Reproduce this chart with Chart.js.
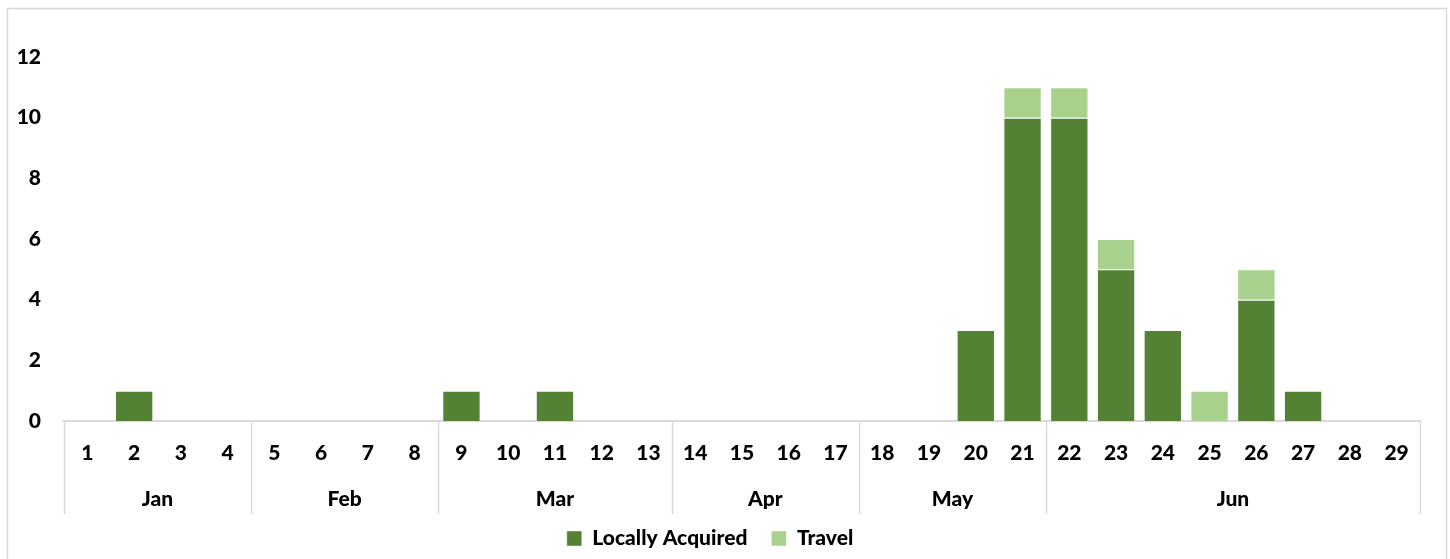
<!DOCTYPE html>
<html>
<head>
<meta charset="utf-8">
<script src="https://cdn.jsdelivr.net/npm/chart.js@4.4.1/dist/chart.umd.min.js"></script>
<style>
    html, body { margin: 0; padding: 0; background: #ffffff; }
    #wrap { position: relative; width: 1450px; height: 559px; }
</style>
</head>
<body>
<div id="wrap"><canvas id="cases"></canvas></div>
<script>
// Data
const days = ['1', '2', '3', '4', '5', '6', '7', '8', '9', '10', '11', '12', '13', '14', '15',
    '16', '17', '18', '19', '20', '21', '22', '23', '24', '25', '26', '27', '28', '29'];
const months = ['Jan', 'Feb', 'Mar', 'Apr', 'May', 'Jun'];
const monthSpans = [4, 4, 5, 4, 4, 8];
const locallyAcquired = [0, 1, 0, 0, 0, 0, 0, 0, 1, 0, 1, 0, 0, 0, 0,
    0, 0, 0, 0, 3, 10, 10, 5, 3, 0, 4, 1, 0, 0];
const travel = [0, 0, 0, 0, 0, 0, 0, 0, 0, 0, 0, 0, 0, 0, 0,
    0, 0, 0, 0, 0, 1, 1, 1, 0, 1, 1, 0, 0, 0];
const yTicks = [0, 2, 4, 6, 8, 10, 12];

const FONT = 'Lato, "Open Sans", sans-serif';
const FONT_SIZE = 21;
const WEIGHT = 900;
const GRID = '#d9d9d9';

// Month band under the day labels + the outer frame
const monthAxis = {
    id: 'monthAxis',
    afterDraw(chart) {
        const ctx = chart.ctx;
        const x = chart.scales.x;
        const base = chart.chartArea.bottom;
        const half = (x.getPixelForValue(1) - x.getPixelForValue(0)) / 2;

        ctx.save();
        // frame
        ctx.strokeStyle = GRID;
        ctx.lineWidth = 1.5;
        ctx.strokeRect(7.5, 8.5, 1439, 600);

        ctx.fillStyle = '#000';
        ctx.font = WEIGHT + ' ' + FONT_SIZE + 'px ' + FONT;
        ctx.textAlign = 'center';
        ctx.textBaseline = 'middle';

        let start = 0;
        months.forEach((m, i) => {
            const left = x.getPixelForValue(start) - half;
            const right = x.getPixelForValue(start + monthSpans[i] - 1) + half;
            ctx.beginPath();
            ctx.moveTo(Math.round(left) + 0.5, base);
            ctx.lineTo(Math.round(left) + 0.5, base + 93);
            ctx.stroke();
            if (i === months.length - 1) {
                ctx.beginPath();
                ctx.moveTo(Math.round(right) + 0.5, base);
                ctx.lineTo(Math.round(right) + 0.5, base + 93);
                ctx.stroke();
            }
            ctx.fillText(m, (left + right) / 2, base + 78);
            start += monthSpans[i];
        });
        ctx.restore();
    }
};

const ctx = document.getElementById('cases').getContext('2d');
new Chart(ctx, {
    type: 'bar',
    data: {
        labels: days,
        datasets: [{
            label: 'Locally Acquired',
            data: locallyAcquired,
            backgroundColor: '#548235',
            borderColor: 'rgba(255,255,255,0.45)',
            borderWidth: 1,
            barPercentage: 0.82,
            categoryPercentage: 1
        }, {
            label: 'Travel',
            data: travel,
            backgroundColor: '#a9d18e',
            borderColor: 'rgba(255,255,255,0.45)',
            borderWidth: 1,
            barPercentage: 0.82,
            categoryPercentage: 1
        }]
    },
    options: {
        responsive: true,
        maintainAspectRatio: false,
        animation: false,
        layout: {
            padding: { left: 0, right: 30, top: 57, bottom: 0 }
        },
        plugins: {
            tooltip: { enabled: false },
            legend: {
                position: 'bottom',
                labels: {
                    boxWidth: 15,
                    boxHeight: 15,
                    padding: 24,
                    color: '#000',
                    font: { family: FONT, size: FONT_SIZE, weight: WEIGHT }
                }
            }
        },
        scales: {
            x: {
                stacked: true,
                grid: { display: false },
                border: { display: true, color: GRID, width: 2 },
                ticks: {
                    color: '#000',
                    padding: 12,
                    maxRotation: 0,
                    autoSkip: false,
                    font: { family: FONT, size: FONT_SIZE, weight: WEIGHT }
                },
                afterFit(scale) { scale.height = 83; }
            },
            y: {
                stacked: true,
                min: 0,
                max: 12,
                grid: { display: false },
                border: { display: false },
                afterBuildTicks(scale) { scale.ticks = yTicks.map(v => ({ value: v })); },
                ticks: {
                    color: '#000',
                    padding: 15,
                    font: { family: FONT, size: FONT_SIZE, weight: WEIGHT }
                },
                afterFit(scale) { scale.width = 64; }
            }
        }
    },
    plugins: [monthAxis]
});
</script>
</body>
</html>
